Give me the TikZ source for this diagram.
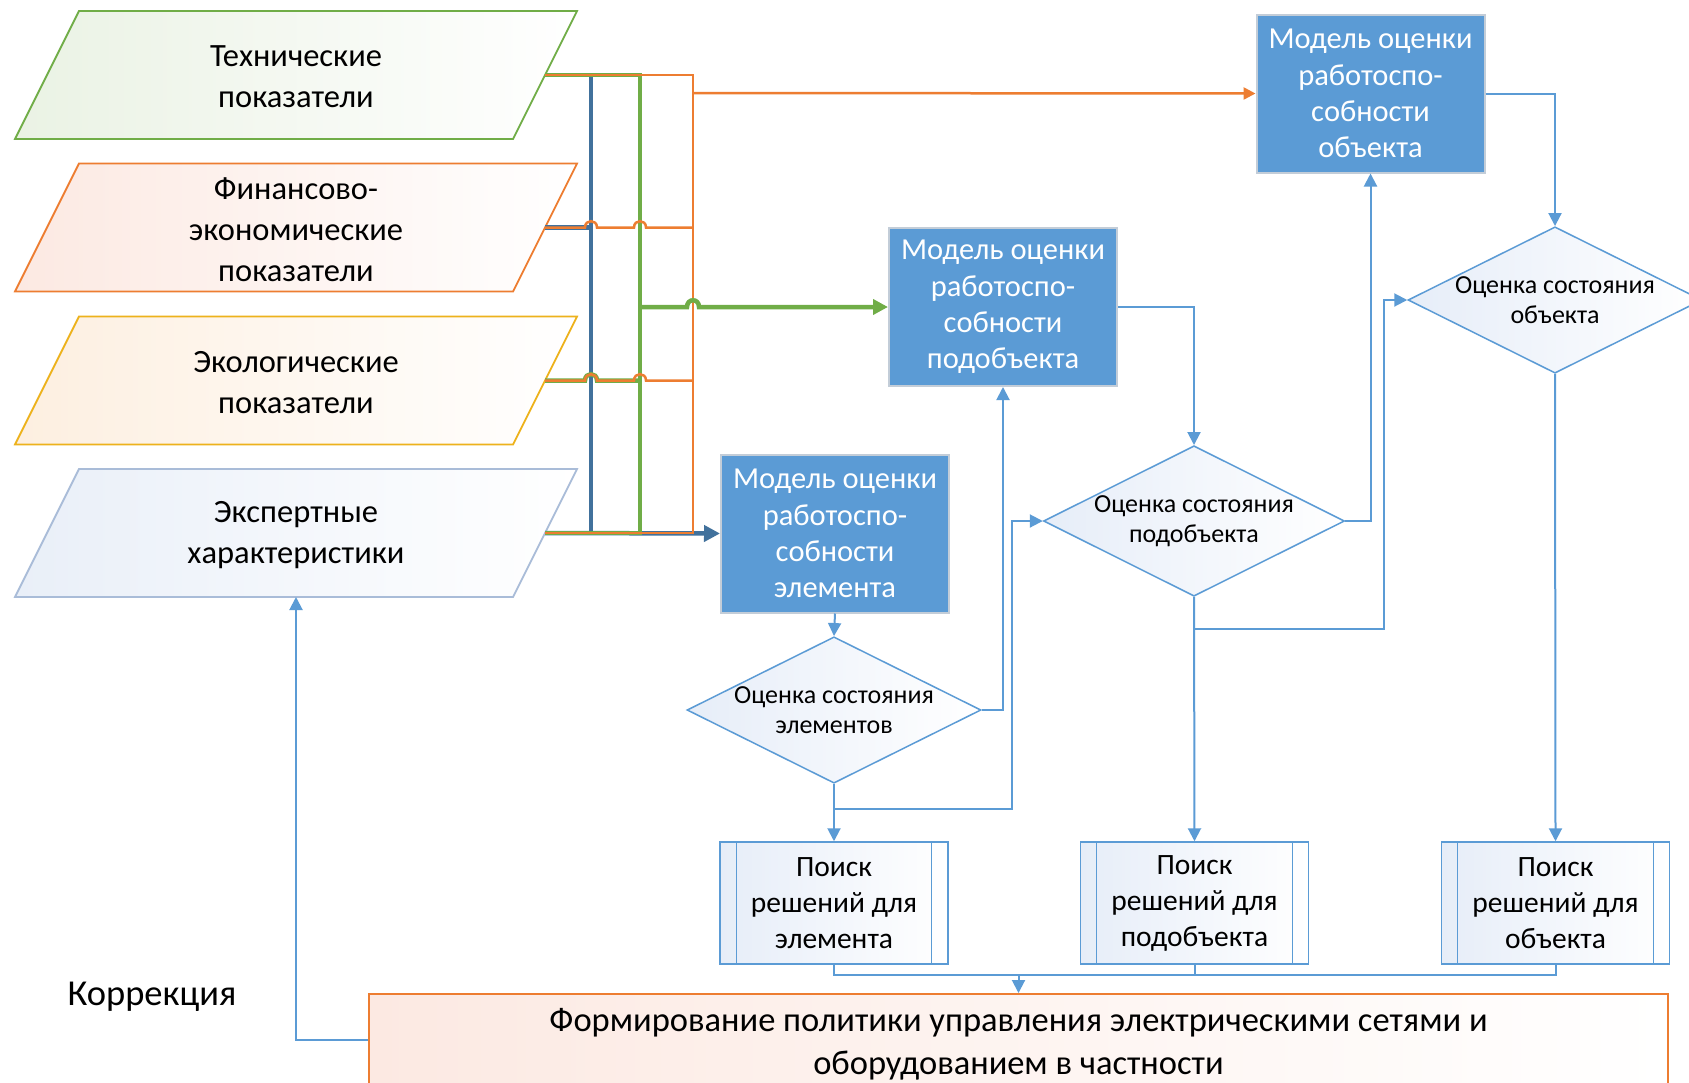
\documentclass[tikz,border=0pt]{standalone}
\usepackage{fontspec}
\setmainfont{Carlito}
\usetikzlibrary{arrows.meta,shapes.geometric,calc}
\definecolor{cblue}{HTML}{5B9BD5}
\definecolor{dblue}{HTML}{41719C}
\definecolor{cgreen}{HTML}{70AD47}
\definecolor{corange}{HTML}{ED7D31}
\definecolor{cgold}{HTML}{EDB21C}
\definecolor{cpale}{HTML}{A9BCD8}
\definecolor{fgreen}{HTML}{EAF2E4}
\definecolor{forange}{HTML}{FCE9E2}
\definecolor{fgold}{HTML}{FDEFE0}
\definecolor{fblue}{HTML}{E9EFF8}
\definecolor{fdia}{HTML}{E6EDF8}
\definecolor{mborder}{HTML}{C3CDD8}
\tikzset{
  ptext/.style={align=center, font=\fontsize{32.5}{41}\selectfont, inner sep=0pt},
  model/.style={rectangle, fill=cblue, draw=mborder, line width=2pt, minimum width=228pt, minimum height=158pt, align=center, text=white, font=\fontsize{30.5}{36.3}\selectfont, inner sep=0pt},
  decide/.style={diamond, shape aspect=2, draw=cblue, line width=1.5pt, left color=fdia, right color=white, minimum width=294pt, minimum height=146pt, inner sep=0pt, align=center, font=\fontsize{26}{29.5}\selectfont},
  search/.style={rectangle, draw=cblue, line width=1.5pt, left color=fdia, right color=white, minimum width=228pt, minimum height=122pt, align=center, font=\fontsize{29.5}{36}\selectfont, inner sep=0pt},
  conn/.style={draw=cblue, line width=2pt, -{Triangle[width=13pt,length=13pt]}},
  link/.style={draw=cblue, line width=2pt},
  busb/.style={draw=dblue, line width=4.5pt},
  busg/.style={draw=cgreen, line width=4.5pt},
  buso/.style={draw=corange, line width=2.5pt},
}
\newcommand\parabox[5]{%
  \shade[left color=#4, right color=white, draw=#3, line width=1.8pt]
    (79,#2-64) -- (577,#2-64) -- (513,#2+64) -- (15,#2+64) -- cycle;
  \node[ptext] (#1) at (296,#2+2) {#5};
  \coordinate (#1e) at (545,#2);
}
\begin{document}
\begin{tikzpicture}[x=1pt,y=-1pt]
\useasboundingbox (0,0) rectangle (1689,1082);
\clip (0,0) rectangle (1689,1082);
\fill[white] (0,0) rectangle (1689,1082);

% input parallelograms
\parabox{p1}{75}{cgreen}{fgreen}{Технические\\показатели}
\parabox{p2}{227.5}{corange}{forange}{Финансово-\\экономические\\показатели}
\parabox{p3}{380.5}{cgold}{fgold}{Экологические\\показатели}
\parabox{p4}{533}{cpale}{fblue}{Экспертные\\характеристики}
\coordinate (p4s) at (296,597);

% models
\node[model] (em) at (835,533.5) {Модель оценки\\работоспо-\\собности\\элемента};
\node[model] (sm) at (1003,307) {Модель оценки\\работоспо-\\собности\\подобъекта};
\node[model] (om) at (1370.5,93.5) {Модель оценки\\работоспо-\\собности\\объекта};

% decisions
\node[decide] (ed) at (834,710) {Оценка состояния\\элементов};
\node[decide] (sd) at (1194,521) {Оценка состояния\\подобъекта};
\node[decide] (od) at (1555,300) {Оценка состояния\\объекта};

% search boxes
\node[search] (b1) at (834,903) {Поиск\\решений для\\элемента};
\node[search] (b2) at (1194.5,903) {Поиск\\решений для\\подобъекта};
\node[search] (b3) at (1555.5,903) {Поиск\\решений для\\объекта};
\foreach \b in {b1,b2,b3}{
  \draw[cblue, line width=1.2pt] ([xshift=17pt]\b.north west) -- ([xshift=17pt]\b.south west);
  \draw[cblue, line width=1.2pt] ([xshift=-17pt]\b.north east) -- ([xshift=-17pt]\b.south east);
}

% bottom policy box
\node[rectangle, draw=corange, line width=2pt, left color=forange, right color=white,
      minimum width=1299pt, minimum height=100pt, align=center,
      font=\fontsize{34.5}{43}\selectfont, inner sep=0pt] (fp) at (1018.5,1044)
  {Формирование политики управления электрическими сетями и\\оборудованием в частности};
\node[font=\fontsize{36.5}{40}\selectfont, inner sep=0pt] (corr) at (152,997) {Коррекция};

% ---- buses ----
% blue bus -> element model
\draw[busb] (p1e) -- (591,75) -- (591,533);
\draw[busb] (p2e) -- (591,227.5);
\draw[busb, -{Triangle[width=16pt,length=16pt]}] (p4e) -- (em.west);
% green bus -> subobject model
\draw[busg] (p1e) -- (640,75) -- (640,533) -- (p4e);
\draw[busg] (p3e) -- (585,380.5) .. controls (585,372) and (597,372) .. (597,380.5) -- (640,380.5);
% orange bus -> object model
\draw[buso] (p1e) -- (693,75) -- (693,533) -- (p4e);
\draw[buso] (p2e) -- (585,227.5) .. controls (585,219) and (597,219) .. (597,227.5)
   -- (634,227.5) .. controls (634,219) and (646,219) .. (646,227.5) -- (693,227.5);
\draw[buso] (p3e) -- (585,380.5) .. controls (585,372) and (597,372) .. (597,380.5)
   -- (634,380.5) .. controls (634,372) and (646,372) .. (646,380.5) -- (693,380.5);
\draw[buso, -{Triangle[width=12pt,length=12pt]}] (693,93) -- (om.west);
\draw[busg, -{Triangle[width=15pt,length=15pt]}] (640,307) -- (687,307)
   .. controls (687,298) and (699,298) .. (699,307) -- (sm.west);

% ---- blue flow ----
\draw[conn] (em.south) -- (ed.north);
\draw[conn] (ed.east) -| (sm.south);
\draw[conn] (ed.south) -- (b1.north);
\coordinate (j1) at (834,809);
\draw[conn] (j1) -| ($(sd.west)+(-31,0)$) -- (sd.west);

\draw[conn] (sm.east) -| (sd.north);
\draw[conn] (sd.east) -| (om.south);
\draw[conn] (sd.south) -- (b2.north);
\coordinate (j2) at (1194,629);
\draw[conn] (j2) -| ($(od.west)+(-23,0)$) -- (od.west);

\draw[conn] (om.east) -| (od.north);
\draw[conn] (od.south) -- (b3.north);

% merge to policy
\coordinate (mg) at (1018.5,975);
\draw[link] (b1.south) -- (b1.south |- mg) -- (b3.south |- mg) -- (b3.south);
\draw[link] (b2.south) -- (b2.south |- mg);
\draw[conn] (mg) -- (fp.north);

% correction feedback
\draw[conn] (fp.west |- 0,1040) -| (p4s);
\end{tikzpicture}
\end{document}
